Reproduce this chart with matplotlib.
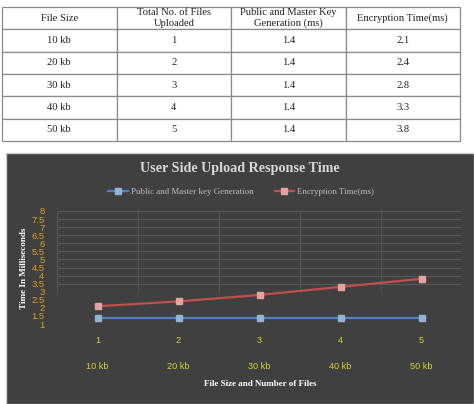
import matplotlib.pyplot as plt
from matplotlib.patches import Rectangle

# table / chart data
file_sizes = ["10 kb", "20 kb", "30 kb", "40 kb", "50 kb"]
num_files = [1, 2, 3, 4, 5]
key_gen = [1.4, 1.4, 1.4, 1.4, 1.4]
enc_time = [2.1, 2.4, 2.8, 3.3, 3.8]
col_labels = ["File Size", "Total No. of Files\nUploaded",
              "Public and Master Key\nGeneration (ms)", "Encryption Time(ms)"]

W, H = 474, 404
fig = plt.figure(figsize=(W / 100, H / 100), dpi=100)
fig.patch.set_facecolor("white")

# ================= TABLE + CHART BACKGROUND =================
tax = fig.add_axes([0, 0, 1, 1])
tax.axis("off")
tax.set_xlim(0, W)
tax.set_ylim(H, 0)
tax.add_patch(Rectangle((6, 153), W - 6, H - 153, facecolor="#404040",
                        edgecolor="#cfcfcf", linewidth=1.0, zorder=0))

cells = [[s, str(n), str(k), str(e)] for s, n, k, e in zip(file_sizes, num_files, key_gen, enc_time)]
tbl = tax.table(cellText=cells, colLabels=col_labels, cellLoc="center",
                bbox=[2 / W, 1 - 141 / H, 458 / W, 134 / H])
tbl.auto_set_font_size(False)
for (r, c), cell in tbl.get_celld().items():
    cell.set_edgecolor("#8a8a8a")
    cell.set_linewidth(0.9)
    cell.get_text().set_fontfamily("Liberation Serif")
    cell.get_text().set_fontsize(7.6)
    cell.get_text().set_color("#222222")
    if r == 0:
        cell.get_text().set_linespacing(1.25)

# ================= CHART =================
ax = fig.add_axes([57 / W, 1 - 324 / H, 405 / W, 113 / H])
ax.set_facecolor("none")
x = list(range(1, len(num_files) + 1))
ax.set_xlim(0.5, 5.5)
ax.set_ylim(1, 8)
for s in ax.spines.values():
    s.set_visible(False)

# faint grid (only upper part is drawn in the original)
for yv in [3.5 + 0.5 * i for i in range(10)]:
    ax.plot([0.5, 5.5], [yv, yv], color="#595959", lw=0.8, zorder=1)
for xv in [0.5 + i for i in range(6)]:
    ax.plot([xv, xv], [3.0, 8], color="#535353", lw=0.8, zorder=1)

ax.plot(x, key_gen, color="#4f81bd", lw=1.6, marker="s", markersize=4.5,
        markerfacecolor="#95b3d7", markeredgecolor="#95b3d7", zorder=3,
        label="Public and Master key Generation")
ax.plot(x, enc_time, color="#c0504d", lw=1.6, marker="s", markersize=4.5,
        markerfacecolor="#e6a2a0", markeredgecolor="#e6a2a0", zorder=3,
        label="Encryption Time(ms)")

yt = [1 + 0.5 * i for i in range(15)]
ax.set_yticks(yt)
ax.set_yticklabels([f"{v:g}" for v in yt], color="#d9a520", fontsize=6.8,
                   fontfamily="Liberation Sans")
ax.tick_params(axis="y", length=0, pad=9)
ax.set_xticks([])

trans = ax.get_xaxis_transform()
for xi, n, s in zip(x, num_files, file_sizes):
    ax.text(xi, -0.142, str(n), transform=trans, ha="center", va="center",
            color="#d4d435", fontsize=6.6, fontfamily="Liberation Sans")
    ax.text(xi, -0.372, s, transform=trans, ha="center", va="center",
            color="#d4d435", fontsize=6.6, fontfamily="Liberation Sans")

fig.text(240 / W, 1 - 169 / H, "User Side Upload Response Time", ha="center", va="center",
         color="#d9d9d9", fontsize=10.2, fontweight="bold", fontfamily="Liberation Serif")
fig.text(260 / W, 1 - 384 / H, "File Size and Number of Files", ha="center", va="center",
         color="white", fontsize=6.5, fontweight="bold", fontfamily="Liberation Serif")
fig.text(24 / W, 1 - 268 / H, "Time In Milliseconds", ha="center", va="center", rotation=90,
         color="white", fontsize=6.6, fontweight="bold", fontfamily="Liberation Serif")

leg = ax.legend(loc="center", bbox_to_anchor=(241 / W, 1 - 192 / H),
                bbox_transform=fig.transFigure, ncol=2, frameon=False,
                prop={"family": "Liberation Serif", "size": 6.4},
                handlelength=2.2, handletextpad=0.3, columnspacing=2.4, labelcolor="#bfbfbf")

fig.savefig("out.png", dpi=100)
